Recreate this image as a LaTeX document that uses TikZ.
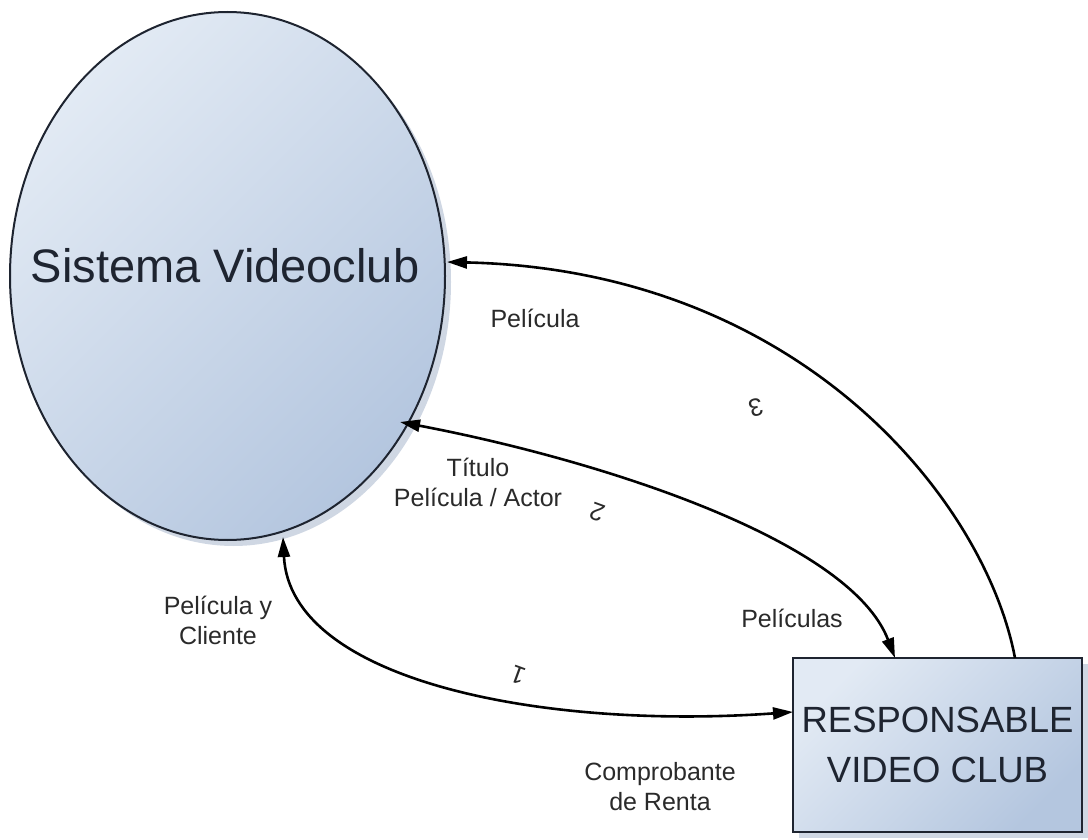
\documentclass[tikz,border=0pt]{standalone}
\usepackage{fontspec}
\setmainfont{Liberation Sans}
\usetikzlibrary{shapes.geometric,arrows.meta,shadows}
\definecolor{fillLight}{HTML}{E2EAF4}
\definecolor{fillDark}{HTML}{B4C6DF}
\definecolor{shadowCol}{HTML}{CFD7E3}
\definecolor{inkCol}{HTML}{1E2430}
\definecolor{labelCol}{HTML}{2A2A2A}
\begin{document}
\begin{tikzpicture}[x=1pt,y=-1pt,
  flow/.style={line width=2.6pt, draw=black,
    {Triangle[length=20pt,width=12pt]}-{Triangle[length=20pt,width=12pt]}},
  flowone/.style={line width=2.6pt, draw=black,
    -{Triangle[length=20pt,width=12pt]}},
  lbl/.style={font=\fontsize{25}{30}\selectfont, text=labelCol, align=center, inner sep=0pt},
  num/.style={font=\fontsize{25}{30}\selectfont, text=labelCol, inner sep=0pt},
  shaded/.style={draw=inkCol, line width=2pt, top color=fillLight, bottom color=fillDark,
    shading angle=45,
    drop shadow={shadow xshift=6pt, shadow yshift=-6pt, fill=shadowCol, opacity=1}}
]
\useasboundingbox (0,0) rectangle (1088,840);

% process bubble and its caption
\node[shaded, ellipse, minimum width=435pt, minimum height=528pt, inner sep=0pt] (sys) at (227.5,276) {};
\node[font=\fontsize{47}{56}\selectfont, text=inkCol, inner sep=0pt] (sysText) at (225,266) {Sistema Videoclub};

% external entity
\node[shaded, rectangle, minimum width=289pt, minimum height=174pt, inner sep=0pt,
      font=\fontsize{36.5}{50}\selectfont, text=inkCol, align=center] (resp) at (937.5,745)
      {RESPONSABLE\\VIDEO CLUB};

% anchor points on the two shapes
\coordinate (sysA) at (447,262);
\coordinate (sysB) at (400,422);
\coordinate (sysC) at (283,537);
\coordinate (respA) at (1015,658);
\coordinate (respB) at (895,658);
\coordinate (respC) at (793,712);

% data flows
\draw[flowone] (respA) .. controls (985,500) and (800,270) .. (sysA);
\draw[flow] (sysB) .. controls (600,460) and (850,540) .. (respB);
\draw[flow] (sysC) .. controls (290,680) and (540,730) .. (respC);

% flow labels (the flow numbers are printed upside down)
\node[lbl] (tPel) at (535,318) {Película};
\node[num, rotate=195] (n3) at (756,408) {3};
\node[lbl] (tTit) at (478,482) {Título\\Película / Actor};
\node[num, rotate=160] (n2) at (597,512) {2};
\node[lbl] (tPels) at (792,618) {Películas};
\node[lbl] (tPelC) at (218,620) {Película y\\Cliente};
\node[num, rotate=160] (n1) at (518,675) {1};
\node[lbl] (tComp) at (660,787) {Comprobante\\de Renta};
\end{tikzpicture}
\end{document}
